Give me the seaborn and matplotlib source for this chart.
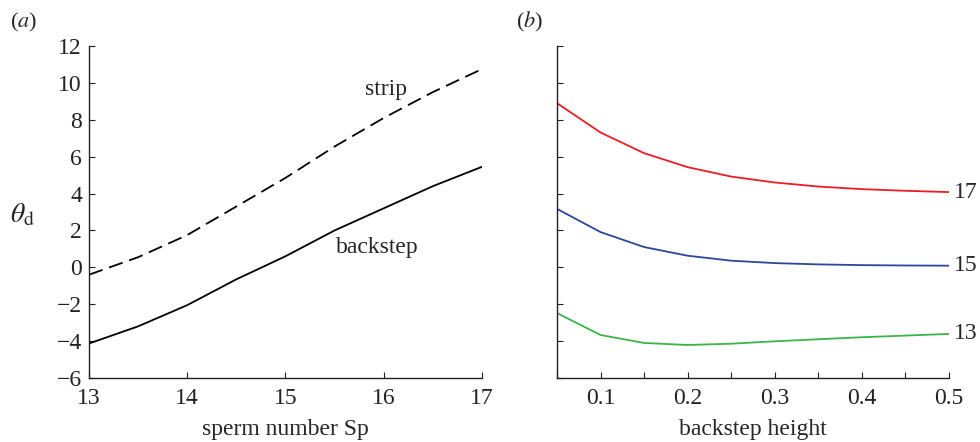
import matplotlib.pyplot as plt
import numpy as np
import pandas as pd
import seaborn as sns

# panel (a): deflection angle against sperm number
sperm_number = [13.0, 13.5, 14.0, 14.5, 15.0, 15.5, 16.0, 16.5, 17.0]
theta_strip = [-0.40, 0.55, 1.75, 3.30, 4.85, 6.55, 8.10, 9.50, 10.75]
theta_backstep = [-4.13, -3.20, -2.05, -0.65, 0.60, 2.00, 3.20, 4.40, 5.45]

# panel (b): deflection angle against backstep height, one curve per Sp
step_height = [0.05, 0.10, 0.15, 0.20, 0.25, 0.30, 0.35, 0.40, 0.45, 0.50]
theta_sp17 = [8.90, 7.31, 6.19, 5.43, 4.92, 4.60, 4.38, 4.24, 4.15, 4.08]
theta_sp15 = [3.17, 1.91, 1.10, 0.63, 0.36, 0.23, 0.16, 0.12, 0.10, 0.09]
theta_sp13 = [-2.48, -3.67, -4.10, -4.21, -4.14, -4.01, -3.90, -3.79, -3.70, -3.61]
sp_labels = ["17", "15", "13"]
sp_colors = ["#ec1c24", "#2b479c", "#3cb44a"]


def main():
    sns.set_theme(style="ticks")
    plt.rcParams["font.family"] = ["Liberation Serif", "DejaVu Serif"]
    plt.rcParams["mathtext.fontset"] = "stix"
    plt.rcParams["axes.edgecolor"] = "#222222"

    fig = plt.figure(figsize=(9.8, 4.42), dpi=100)
    fig.patch.set_facecolor("white")
    ax_a = fig.add_axes([0.0908, 0.1448, 0.401, 0.7511])
    ax_b = fig.add_axes([0.5684, 0.1448, 0.400, 0.7511])

    fs = 17

    # ---- panel (a)
    df_a = pd.DataFrame({"Sp": sperm_number, "strip": theta_strip, "backstep": theta_backstep})
    sns.lineplot(data=df_a, x="Sp", y="strip", ax=ax_a, color="black", lw=1.3,
                 linestyle=(0, (8.0, 3.8)))
    sns.lineplot(data=df_a, x="Sp", y="backstep", ax=ax_a, color="black", lw=1.3)
    ax_a.set_xlim(13, 17)
    ax_a.set_ylim(-6, 12)
    ax_a.set_xticks(np.arange(13, 18, 1))
    ax_a.set_yticks(np.arange(-6, 13, 2))
    ax_a.set_yticklabels([f"{v}".replace("-", "\u2212") for v in range(-6, 13, 2)])
    ax_a.set_xlabel("sperm number Sp", fontsize=fs)
    ax_a.xaxis.set_label_coords(0.5, -0.125)
    ax_a.set_ylabel(r"$\theta_{\mathrm{d}}$", fontsize=fs + 3, rotation=0)
    ax_a.yaxis.set_label_coords(-0.17, 0.45)
    ax_a.text(16.02, 9.62, "strip", fontsize=fs, ha="center", va="center")
    ax_a.text(15.93, 1.05, "backstep", fontsize=fs, ha="center", va="center")

    # ---- panel (b)
    df_b = pd.DataFrame({"h": step_height, "17": theta_sp17, "15": theta_sp15, "13": theta_sp13})
    for lab, col in zip(sp_labels, sp_colors):
        sns.lineplot(data=df_b, x="h", y=lab, ax=ax_b, color=col, lw=1.3)
        ax_b.text(0.506, df_b[lab].iloc[-1], lab, fontsize=fs, ha="left", va="center",
                  clip_on=False)
    ax_b.set_xlim(0.05, 0.5)
    ax_b.set_ylim(-6, 12)
    ax_b.set_xticks(np.arange(0.1, 0.51, 0.1))
    ax_b.set_xticklabels([f"{v:.1f}" for v in np.arange(0.1, 0.51, 0.1)])
    ax_b.set_xticks(np.arange(0.05, 0.51, 0.05), minor=True)
    ax_b.set_yticks(np.arange(-6, 13, 2))
    ax_b.set_yticklabels([])
    ax_b.set_xlabel("backstep height", fontsize=fs)
    ax_b.xaxis.set_label_coords(0.5, -0.125)
    ax_b.set_ylabel("")

    for ax in (ax_a, ax_b):
        sns.despine(ax=ax)
        ax.set_facecolor("white")
        ax.spines["left"].set_linewidth(1.0)
        ax.spines["bottom"].set_linewidth(1.0)
        ax.tick_params(axis="both", which="both", direction="in", length=4.5, width=0.8,
                       labelsize=fs, colors="#222222", pad=5)
        ax.tick_params(axis="x", pad=7)

    fig.text(0.010, 0.95, r"($\mathit{a}$)", fontsize=fs - 1, va="center")
    fig.text(0.527, 0.95, r"($\mathit{b}$)", fontsize=fs - 1, va="center")

    fig.savefig("out.png", dpi=100, facecolor="white")
    plt.close(fig)


if __name__ == "__main__":
    main()
